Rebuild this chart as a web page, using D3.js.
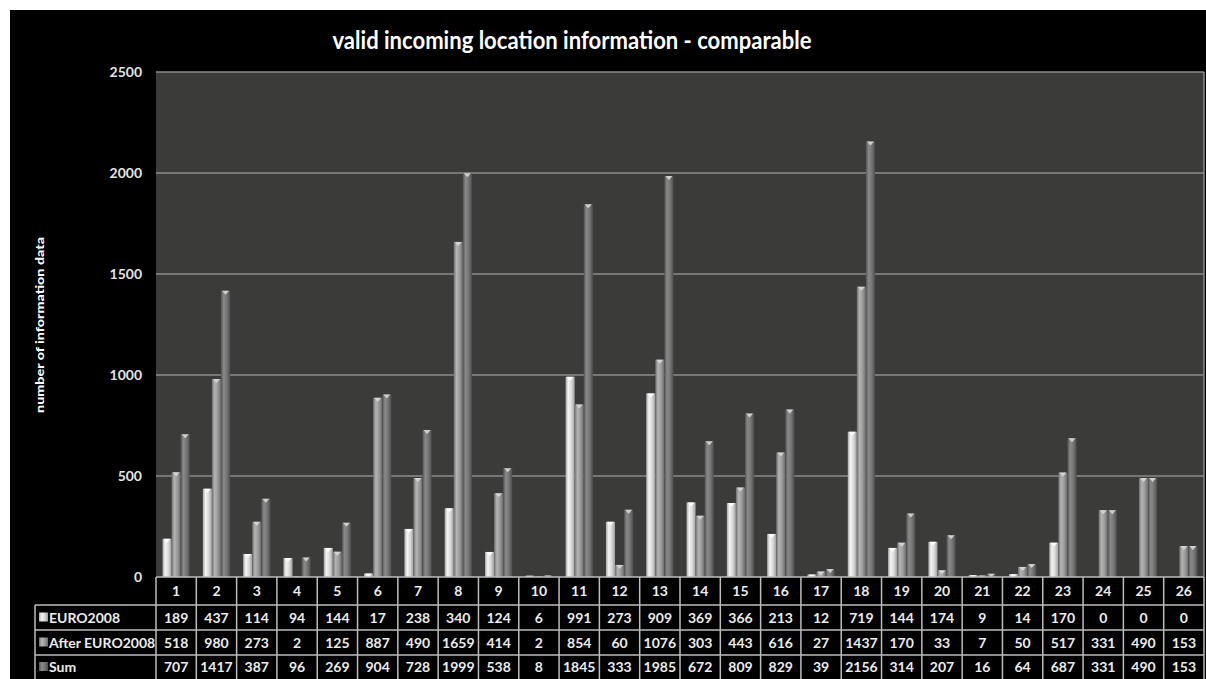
<!DOCTYPE html>
<html><head><meta charset="utf-8">
<script src="https://cdn.jsdelivr.net/npm/d3@7"></script>
<style>body{margin:0;background:#fff;overflow:hidden} svg{display:block}</style>
</head><body><svg id="c" width="1206" height="679"></svg>
<script>
const categories = ["1","2","3","4","5","6","7","8","9","10","11","12","13","14","15","16","17","18","19","20","21","22","23","24","25","26"];
const seriesNames = ["EURO2008","After EURO2008","Sum"];
const euro2008 = [189,437,114,94,144,17,238,340,124,6,991,273,909,369,366,213,12,719,144,174,9,14,170,0,0,0];
const afterEuro = [518,980,273,2,125,887,490,1659,414,2,854,60,1076,303,443,616,27,1437,170,33,7,50,517,331,490,153];
const sumValues = [707,1417,387,96,269,904,728,1999,538,8,1845,333,1985,672,809,829,39,2156,314,207,16,64,687,331,490,153];
const yTicks = [0,500,1000,1500,2000,2500];
const titleText = "valid incoming location information - comparable";
const yTitle = "number of information data";

const series = [euro2008, afterEuro, sumValues];
const svg = d3.select("#c");
const FONT = "Lato, 'Open Sans', sans-serif";

// layout
const L = 156, R = 1204, T = 72, B = 577;
const rowTops = [605, 630, 655, 679];

svg.append("rect").attr("x",10).attr("y",10).attr("width",1196).attr("height",669).attr("fill","#000");

const defs = svg.append("defs");
const grads = [
  ["#a9a9a9","#f4f4f4","#d8d8d8","#9e9e9e"],
  ["#707070","#b4b4b4","#9a9a9a","#6a6a6a"],
  ["#545454","#8a8a8a","#757575","#4e4e4e"]
];
grads.forEach((g,i)=>{
  const lg = defs.append("linearGradient").attr("id","g"+i).attr("x1","0").attr("x2","1").attr("y1","0").attr("y2","0");
  lg.append("stop").attr("offset","0").attr("stop-color",g[0]);
  lg.append("stop").attr("offset","0.3").attr("stop-color",g[1]);
  lg.append("stop").attr("offset","0.65").attr("stop-color",g[2]);
  lg.append("stop").attr("offset","1").attr("stop-color",g[3]);
});

const x = d3.scaleBand().domain(categories).range([L,R]).padding(0);
const xs = d3.scaleBand().domain(d3.range(3)).range([0,x.bandwidth()]).paddingInner(0).paddingOuter(0.72);
const y = d3.scaleLinear().domain([0,2500]).range([B,T]);

// plot area
svg.append("rect").attr("x",L).attr("y",T).attr("width",R-L).attr("height",B-T).attr("fill","#3b3c3a");
svg.append("g").selectAll("line").data(yTicks.filter(d=>d>0)).join("line")
  .attr("x1",L).attr("x2",R).attr("y1",d=>y(d)).attr("y2",d=>y(d))
  .attr("stroke","#8c8c8a").attr("stroke-width",1.5);
svg.append("line").attr("x1",R).attr("x2",R).attr("y1",T).attr("y2",B).attr("stroke","#8c8c8a").attr("stroke-width",1.5);

// y axis labels
const yAxis = d3.axisLeft(y).tickValues(yTicks).tickFormat(d3.format("d")).tickSize(0).tickPadding(14);
const ya = svg.append("g").attr("transform",`translate(${L},0)`).call(yAxis);
ya.select(".domain").remove();
ya.selectAll("text").attr("fill","#e4e4e4").style("font-family",FONT).style("font-size","14px").style("font-weight","bold");

// y title
svg.append("text").attr("transform","translate(44,325) rotate(-90)").attr("text-anchor","middle")
  .attr("fill","#fff").style("font-family",FONT).style("font-size","12px").style("font-weight","900")
  .attr("textLength",176).attr("lengthAdjust","spacingAndGlyphs").text(yTitle);

// title
svg.append("text").attr("x",572).attr("y",49).attr("text-anchor","middle").attr("fill","#fff")
  .style("font-family",FONT).style("font-size","25px").style("font-weight","bold")
  .attr("textLength",479).attr("lengthAdjust","spacingAndGlyphs").text(titleText);

// bars
const bw = xs.bandwidth();
series.forEach((vals,si)=>{
  const g = svg.append("g");
  g.selectAll("rect").data(vals).join("rect")
    .attr("x",(d,i)=>x(categories[i])+xs(si))
    .attr("y",d=>y(d))
    .attr("width",bw)
    .attr("height",d=>B-y(d))
    .attr("fill",`url(#g${si})`);
  g.selectAll("path").data(vals.map((v,i)=>[v,i]).filter(d=>d[0]>0)).join("path")
    .attr("d",([v,i])=>{
      const x0 = x(categories[i])+xs(si), y0 = y(v);
      return `M${x0+1},${y0}L${x0+bw-1},${y0}L${x0+bw/2},${y0+Math.min(4,B-y0)}Z`;
    })
    .attr("fill", si===0?"#ffffff":"#d8d8d8").attr("opacity",0.9);
});

// table
const tg = svg.append("g");
const lineC = "#bdbdbd";
const tSize = "14px";
tg.selectAll("text.cat").data(categories).join("text").attr("class","cat")
  .attr("x",d=>x(d)+x.bandwidth()/2).attr("y",(B+rowTops[0])/2+5).attr("text-anchor","middle")
  .attr("fill","#ececec").style("font-family",FONT).style("font-size",tSize).style("font-weight","bold").text(d=>d);
series.forEach((vals,si)=>{
  tg.selectAll("text.v"+si).data(vals).join("text").attr("class","v"+si)
    .attr("x",(d,i)=>x(categories[i])+x.bandwidth()/2).attr("y",(rowTops[si]+rowTops[si+1])/2+5)
    .attr("text-anchor","middle").attr("fill","#ececec")
    .style("font-family",FONT).style("font-size",tSize).style("font-weight","bold").text(d=>d);
  tg.append("rect").attr("x",39).attr("y",(rowTops[si]+rowTops[si+1])/2-5).attr("width",9).attr("height",9)
    .attr("fill",`url(#g${si})`);
  tg.append("text").attr("x",49).attr("y",(rowTops[si]+rowTops[si+1])/2+5)
    .attr("fill","#ececec").style("font-family",FONT).style("font-size",tSize).style("font-weight","bold").text(seriesNames[si]);
});
const vx = categories.map(c=>x(c)).concat([R]);
tg.selectAll("line.v").data(vx).join("line").attr("class","v")
  .attr("x1",d=>d).attr("x2",d=>d).attr("y1",B).attr("y2",679).attr("stroke",lineC).attr("stroke-width",1.5);
tg.append("line").attr("x1",35).attr("x2",35).attr("y1",rowTops[0]).attr("y2",679).attr("stroke",lineC).attr("stroke-width",1.5);
tg.append("line").attr("x1",L).attr("x2",R).attr("y1",B).attr("y2",B).attr("stroke",lineC).attr("stroke-width",1.5);
tg.selectAll("line.h").data(rowTops.slice(0,3)).join("line").attr("class","h")
  .attr("x1",35).attr("x2",R).attr("y1",d=>d).attr("y2",d=>d).attr("stroke",lineC).attr("stroke-width",1.5);
</script></body></html>
